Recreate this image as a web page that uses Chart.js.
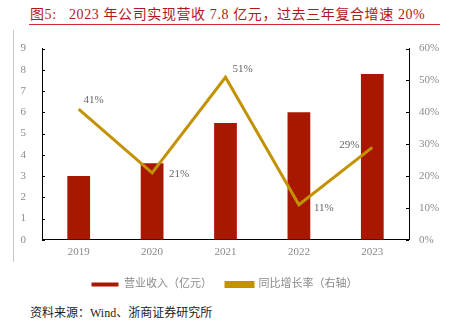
<!DOCTYPE html>
<html lang="zh">
<head>
  <meta charset="UTF-8" />
  <title>营收与增速</title>
  <script src="https://cdn.jsdelivr.net/npm/chart.js"></script>
  <style>
    body { margin: 0; background: #fff; font-family: "Liberation Serif", "Noto Sans CJK SC", serif; }
    #wrap { position: relative; width: 449px; height: 322px; overflow: hidden; }
    #title { position: absolute; left: 30px; top: 3px; font-size: 14px; letter-spacing: 0.6px; color: #b0181c; white-space: nowrap; }
    #rule { position: absolute; left: 29px; top: 24px; width: 411px; height: 1px; background: #d9282c; }
    #side { position: absolute; left: 13px; top: 30px; width: 1px; height: 232px; background: #c8c8c8; }
    #src { position: absolute; left: 30px; top: 303px; font-size: 12px; color: #222; white-space: nowrap; }
    #box { position: absolute; left: 0; top: 26px; width: 449px; height: 274px; }
  </style>
</head>
<body>
<div id="wrap">
  <div id="title">图5:&nbsp;&nbsp; 2023 年公司实现营收 7.8 亿元，过去三年复合增速 20%</div>
  <div id="rule"></div>
  <div id="side"></div>
  <div id="box"><canvas id="grafico"></canvas></div>
  <div id="src">资料来源：Wind、浙商证券研究所</div>
</div>

<script>
  const years = ['2019', '2020', '2021', '2022', '2023'];
  const revenue = [3.0, 3.6, 5.5, 6.0, 7.8];      // 营业收入（亿元）
  const growth = [41, 21, 51, 11, 29];            // 同比增长率（%）
  const growthLabels = ['41%', '21%', '51%', '11%', '29%'];

  const gray = '#8a8a8a';
  const serif = '"Liberation Serif", "Noto Sans CJK SC", serif';

  // where each growth label sits relative to its point
  const labelOffsets = [[15, -9], [27, 1], [17, -8], [25, 3], [-23, -2]];

  const growthLabelPlugin = {
    id: 'growthLabels',
    afterDatasetsDraw(chart) {
      const c = chart.ctx;
      const meta = chart.getDatasetMeta(1);
      c.save();
      c.font = '11px ' + serif;
      c.fillStyle = '#666';
      c.textAlign = 'center';
      c.textBaseline = 'middle';
      meta.data.forEach((pt, i) => {
        c.fillText(growthLabels[i], pt.x + labelOffsets[i][0], pt.y + labelOffsets[i][1]);
      });
      c.restore();
    }
  };

  // inward tick marks on both y axes
  const innerTicks = {
    id: 'innerTicks',
    afterDraw(chart) {
      const c = chart.ctx;
      c.save();
      c.strokeStyle = '#000';
      c.lineWidth = 1;
      const yl = chart.scales.y, yr = chart.scales.y1;
      yl.ticks.forEach(t => {
        const py = Math.round(yl.getPixelForValue(t.value)) + 0.5;
        c.beginPath(); c.moveTo(yl.right, py); c.lineTo(yl.right + 3, py); c.stroke();
      });
      yr.ticks.forEach(t => {
        const py = Math.round(yr.getPixelForValue(t.value)) + 0.5;
        c.beginPath(); c.moveTo(yr.left, py); c.lineTo(yr.left - 3, py); c.stroke();
      });
      c.restore();
    }
  };

  const ctx = document.getElementById('grafico').getContext('2d');
  const chart = new Chart(ctx, {
    type: 'bar',
    data: {
      labels: years,
      datasets: [{
        label: '营业收入（亿元）',
        data: revenue,
        backgroundColor: '#a81800',
        borderColor: '#a81800',
        barPercentage: 0.31,
        categoryPercentage: 1,
        yAxisID: 'y',
        order: 2
      }, {
        type: 'line',
        label: '同比增长率（右轴）',
        data: growth,
        borderColor: '#c39200',
        backgroundColor: '#c39200',
        borderWidth: 3,
        pointRadius: 0,
        tension: 0,
        yAxisID: 'y1',
        order: 1
      }]
    },
    options: {
      responsive: true,
      maintainAspectRatio: false,
      animation: false,
      layout: { padding: { top: 0, left: 0, right: 0, bottom: 0 } },
      plugins: {
        tooltip: { enabled: false },
        legend: {
          position: 'bottom',
          labels: {
            boxWidth: 27,
            boxHeight: 4,
            padding: 14,
            color: gray,
            font: { size: 11, family: serif },
            sort: (a, b) => a.datasetIndex - b.datasetIndex
          }
        }
      },
      scales: {
        x: {
          grid: { display: false, drawTicks: false },
          border: { color: '#000', width: 1 },
          ticks: { color: gray, font: { size: 11, family: serif }, padding: 6 }
        },
        y: {
          position: 'left',
          min: 0, max: 9,
          grid: { display: false, drawTicks: false },
          border: { color: '#000', width: 1 },
          ticks: { stepSize: 1, color: gray, font: { size: 11, family: serif }, padding: 16 },
          afterFit(s) { s.width = 42; }
        },
        y1: {
          position: 'right',
          min: 0, max: 60,
          grid: { display: false, drawTicks: false },
          border: { color: '#000', width: 1 },
          ticks: { stepSize: 10, color: gray, font: { size: 11, family: serif }, padding: 10,
                   callback: v => v + '%' },
          afterFit(s) { s.width = 40; }
        }
      }
    },
    plugins: [growthLabelPlugin, innerTicks]
  });
</script>
</body>
</html>
